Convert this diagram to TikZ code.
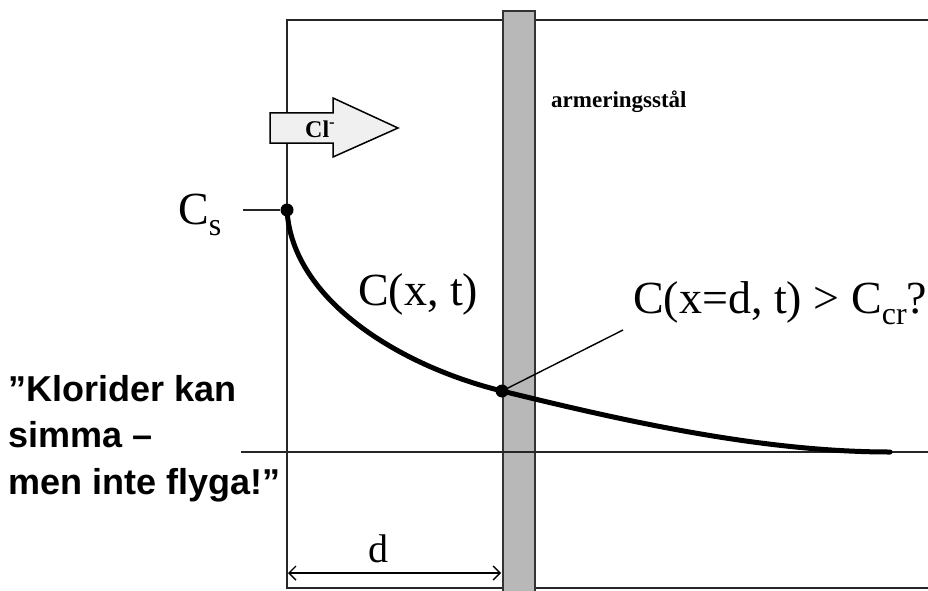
\documentclass[tikz,border=0pt]{standalone}
\usepackage{fontspec}
\setmainfont{Liberation Serif}
\newfontfamily\quotefont{Liberation Sans}
\usetikzlibrary{arrows.meta,positioning}
\tikzset{>=Stealth}
\newcommand\lowsub[1]{\raisebox{-0.24em}{\fontsize{32}{32}\selectfont #1}}

\begin{document}
\begin{tikzpicture}[x=1pt, y=-1pt,
    frame/.style={line width=1.8pt, black!85},
    bar/.style={draw=black!80, line width=1.4pt, fill=black!28},
    profile/.style={line width=5pt, line cap=round},
    dot/.style={circle, fill=black, inner sep=0pt, minimum size=13pt},
    lbl/.style={font=\fontsize{46}{50}\selectfont, anchor=base west, inner sep=0pt},
    tag/.style={font=\bfseries\fontsize{22}{24}\selectfont, anchor=base west, inner sep=0pt},
    quote/.style={font=\quotefont\bfseries\fontsize{36}{46.5}\selectfont, align=left, anchor=north west, inner sep=0pt},
    dim/.style={<->, >={Straight Barb[length=7pt, width=14pt]}, line width=1.4pt},
    clarrow/.style={draw, line width=1.5pt, fill=black!6}
  ]
    \useasboundingbox (0,0) rectangle (928,591);

    \draw[frame] (928,20) -- (287,20) -- (287,588) -- (928,588);
    \draw[bar] (503,11) rectangle (535,600);
    \draw[frame] (241,452) -- (928,452);

    \coordinate (cs)   at (287,210);
    \coordinate (hit)  at (502,391);
    \coordinate (tail) at (890,452);
    \draw[profile] (cs) .. controls (292,300) and (400,366) .. (hit)
                        .. controls (620,420) and (760,452) .. (tail);

    \node[dot] (csdot) at (cs)  {};
    \node[dot] (ddot)  at (hit) {};

    \coordinate (cstick) at (243,210);
    \coordinate (lead)   at (623,330);
    \draw[frame] (cstick) -- (csdot);
    \draw[line width=1.4pt] (ddot.center) -- (lead);

    \draw[clarrow] (270,113) -- (333,113) -- (333,98) -- (398,128)
                   -- (333,157) -- (333,143) -- (270,143) -- cycle;
    \node[tag, font=\bfseries\fontsize{24}{26}\selectfont] (cl) at (305,137) {Cl\textsuperscript{-}};
    \node[tag, font=\bfseries\fontsize{23}{25}\selectfont] (steel) at (551,107) {armeringsstål};

    \node[lbl] (cslbl) at (178,224) {C\lowsub{s}};
    \node[lbl] (cxt)   at (358,305) {C(x, t)};
    \node[lbl] (crit)  at (633,313) {C(x=d, t) > C\lowsub{cr}?};

    \coordinate (d0) at (288,573);
    \coordinate (d1) at (501,573);
    \draw[dim] (d0) -- (d1);
    \node[lbl, font=\fontsize{40}{44}\selectfont, anchor=base] (dlbl) at (378,562) {d};

    \node[quote] (motto) at (8,375) {”Klorider kan\\simma –\\men inte flyga!”};
\end{tikzpicture}
\end{document}
